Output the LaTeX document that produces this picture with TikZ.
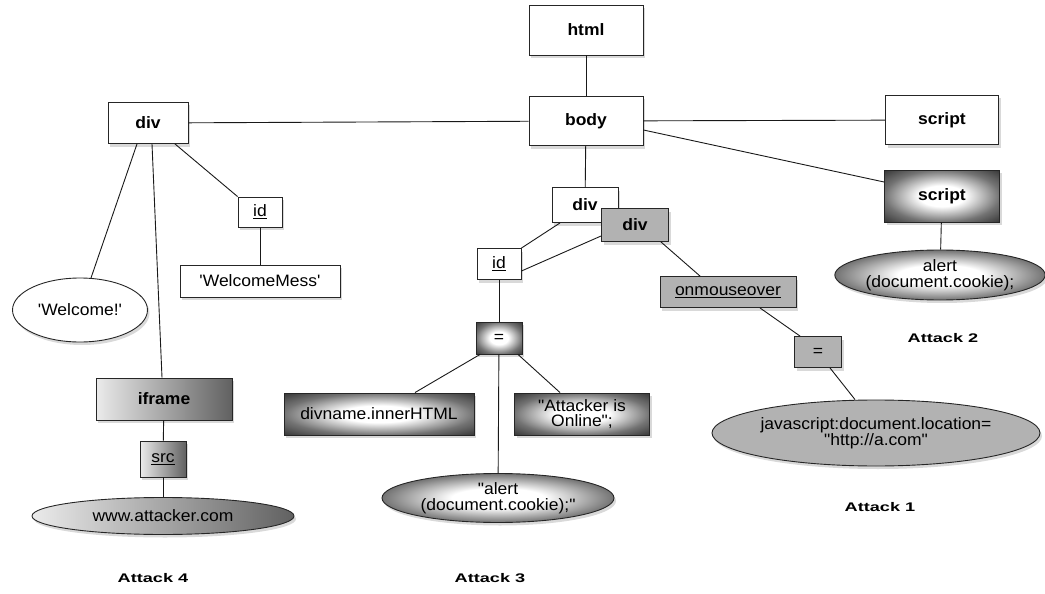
\documentclass[tikz,border=0pt]{standalone}
\usepackage{fontspec}
\setmainfont{Liberation Sans}[FakeStretch=1.06, Ligatures=TeXOff]
\newfontfamily\attackfont{Liberation Sans}[FakeStretch=1.45]
\usetikzlibrary{shapes.geometric,shadows}
\pgfdeclareradialshading{softrad}{\pgfpoint{0bp}{0bp}}{color(0bp)=(white); color(10bp)=(white); color(25bp)=(black!55); color(36bp)=(black!80); color(50bp)=(black!80)}
\tikzset{
  base/.style={draw=black!85, line width=0.9pt, align=center, inner sep=2pt,
    font=\fontsize{16.5}{15.5}\selectfont,
    drop shadow={shadow xshift=2pt, shadow yshift=-3pt, opacity=0.3}},
  box/.style={base, rectangle, fill=white},
  oval/.style={base, ellipse, fill=white},
  tag/.style={font=\fontsize{16.5}{15.5}\selectfont\bfseries},
  grayfill/.style={fill=black!30},
  rad/.style={shading=softrad},
  lin/.style={left color=black!8, right color=black!62},
  conn/.style={draw=black!90, line width=0.9pt},
  attack/.style={font=\attackfont\fontsize{12.5}{14}\selectfont\bfseries}
}
\begin{document}
\begin{tikzpicture}[x=1pt, y=-1pt]
\useasboundingbox (0,0) rectangle (1045,594);
% top
\node[box, tag, minimum width=114, minimum height=50] (html) at (586,30) {html};
\node[box, tag, minimum width=114, minimum height=49] (body) at (586,121) {body};
\node[box, tag, minimum width=113, minimum height=49] (script1) at (942,120) {script};
% left branch
\node[box, tag, minimum width=80, minimum height=41] (divL) at (148,123) {div};
\node[box, minimum width=44, minimum height=30] (idL) at (260,212) {\underline{id}};
\node[box, minimum width=160, minimum height=32] (wm) at (260,281) {'WelcomeMess'};
\node[oval, minimum width=135, minimum height=64] (welcome) at (80,310) {'Welcome!'};
\node[box, tag, lin, minimum width=136, minimum height=42] (iframe) at (164,399) {iframe};
\node[box, lin, minimum width=46, minimum height=36] (src) at (163,459) {\underline{src}};
\node[oval, lin, minimum width=262, minimum height=37, inner sep=0pt] (www) at (163,516) {www.attacker.com};
% middle branch
\node[box, tag, minimum width=66, minimum height=35] (divM) at (585,205) {div};
\node[box, tag, grayfill, minimum width=67, minimum height=33] (divG) at (635,225) {div};
\node[box, minimum width=44, minimum height=31] (idM) at (499,264) {\underline{id}};
\node[box, rad, minimum width=46, minimum height=32] (eqM) at (499,338) {=};
\node[box, rad, minimum width=190, minimum height=42] (divname) at (379,414) {divname.innerHTML};
\node[box, rad, minimum width=135, minimum height=42] (attacker) at (582,414) {"Attacker is\\ Online";};
\node[oval, rad, minimum width=232, minimum height=49, inner sep=0pt] (alertM) at (498,498) {"alert\\ (document.cookie);"};
% right middle branch
\node[box, grayfill, minimum width=136, minimum height=31] (onm) at (728,292) {\underline{onmouseover}};
\node[box, grayfill, minimum width=47, minimum height=31] (eqR) at (818,352) {=};
\node[oval, grayfill, minimum width=328, minimum height=66, inner sep=0pt] (js) at (876,433) {javascript:document.location=\\ "http://a.com"};
% right branch
\node[box, tag, rad, minimum width=115, minimum height=52] (script2) at (942,196) {script};
\node[oval, rad, minimum width=210, minimum height=50, inner sep=0pt] (alertR) at (940,275) {alert\\ (document.cookie);};
% labels
\node[attack] (a1) at (880,507) {Attack 1};
\node[attack] (a2) at (943,338) {Attack 2};
\node[attack] (a3) at (490,578) {Attack 3};
\node[attack] (a4) at (153,578) {Attack 4};
% connectors
\draw[conn] (html) -- (body);
\draw[conn] (body) -- (divL);
\draw[conn] (body) -- (script1);
\draw[conn] ([yshift=-9pt]body.east) -- ([yshift=14pt]script2.west);
\draw[conn] (body) -- (divM);
\draw[conn] ([xshift=-11pt]divL.south) -- (welcome);
\draw[conn] ([xshift=4pt]divL.south) -- ([xshift=-2pt]iframe.north);
\draw[conn] ([xshift=27pt]divL.south) -- (idL.north west);
\draw[conn] (idL) -- (wm);
\draw[conn] (iframe) -- (src);
\draw[conn] (src) -- (www);
\draw[conn] ([xshift=-25pt]divM.south) -- (idM.north east);
\draw[conn] ([yshift=-11pt]divG.west) -- ([yshift=-7pt]idM.east);
\draw[conn] ([xshift=-8pt]divG.south east) -- ([xshift=-28pt]onm.north);
\draw[conn] (idM) -- (eqM);
\draw[conn] ([xshift=-19pt]eqM.south) -- ([xshift=36pt]divname.north);
\draw[conn] ([xshift=19pt]eqM.south) -- ([xshift=-22pt]attacker.north);
\draw[conn] (eqM) -- (alertM);
\draw[conn] ([xshift=32pt]onm.south) -- ([xshift=-18pt]eqR.north);
\draw[conn] ([xshift=12pt]eqR.south) -- ([xshift=-21pt]js.north);
\draw[conn] (script2) -- (alertR);
\end{tikzpicture}
\end{document}
